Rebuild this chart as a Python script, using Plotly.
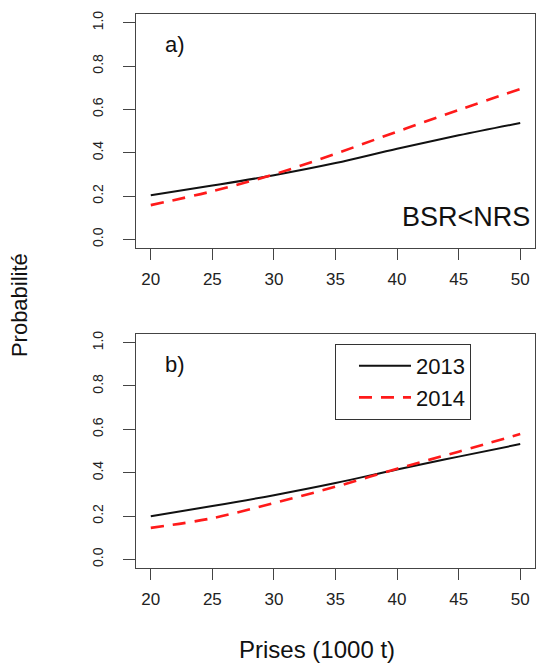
import plotly.graph_objects as go

# Data
prises = [20, 25, 30, 35, 40, 45, 50]
a_2013 = [0.203, 0.248, 0.296, 0.352, 0.418, 0.480, 0.537]
a_2014 = [0.158, 0.222, 0.300, 0.395, 0.497, 0.597, 0.694]
b_2013 = [0.199, 0.246, 0.296, 0.352, 0.415, 0.474, 0.532]
b_2014 = [0.145, 0.190, 0.260, 0.335, 0.418, 0.497, 0.578]
years = ["2013", "2014"]
x_ticks = [20, 25, 30, 35, 40, 45, 50]
y_ticks = [0.0, 0.2, 0.4, 0.6, 0.8, 1.0]

BLACK = "#111111"
RED = "#ff1a1a"
AXC = "#444444"
FONT = "Liberation Sans, Arial, sans-serif"
DASH = "13px,9px"

fig = go.Figure()
fig.add_trace(go.Scatter(x=prises, y=a_2013, mode="lines", name=years[0],
                         line=dict(color=BLACK, width=2, shape="spline"),
                         xaxis="x", yaxis="y", showlegend=False))
fig.add_trace(go.Scatter(x=prises, y=a_2014, mode="lines", name=years[1],
                         line=dict(color=RED, width=2.6, dash=DASH, shape="spline"),
                         xaxis="x", yaxis="y", showlegend=False))
fig.add_trace(go.Scatter(x=prises, y=b_2013, mode="lines", name=years[0],
                         line=dict(color=BLACK, width=2, shape="spline"),
                         xaxis="x2", yaxis="y2"))
fig.add_trace(go.Scatter(x=prises, y=b_2014, mode="lines", name=years[1],
                         line=dict(color=RED, width=2.6, dash=DASH, shape="spline"),
                         xaxis="x2", yaxis="y2"))

xax = dict(range=[18.8, 51.2], tickvals=x_ticks, ticks="outside", ticklen=11,
           tickcolor=AXC, tickwidth=1, showline=True, linecolor=AXC, linewidth=1,
           mirror=True, showgrid=False, zeroline=False, ticklabelstandoff=5,
           tickfont=dict(family=FONT, size=17, color="#222222"), domain=[0, 1])
yax = dict(range=[-0.04, 1.04], tickvals=y_ticks, tickformat=".1f", ticks="outside",
           ticklen=12, tickcolor=AXC, tickwidth=1, showline=True, linecolor=AXC,
           linewidth=1, mirror=True, showgrid=False, zeroline=False, tickangle=-90,
           ticklabelstandoff=14, tickfont=dict(family=FONT, size=14, color="#222222"))

fig.update_layout(
    width=536, height=666,
    margin=dict(l=136, r=1, t=14, b=98),
    paper_bgcolor="white", plot_bgcolor="white",
    xaxis=dict(xax, anchor="y"),
    yaxis=dict(yax, domain=[0.5776, 1.0], anchor="x"),
    xaxis2=dict(xax, anchor="y2"),
    yaxis2=dict(yax, domain=[0.0, 0.4224], anchor="x2"),
    showlegend=True,
    legend=dict(x=0.4987, y=0.4043, xanchor="left", yanchor="top",
                bordercolor="#333333", borderwidth=1, bgcolor="white",
                font=dict(family=FONT, size=22, color="#111111"),
                itemwidth=52, indentation=18, tracegroupgap=0),
    annotations=[
        dict(text="a)", x=22, y=0.9, xref="x", yref="y", showarrow=False,
             font=dict(family=FONT, size=22, color="#111111")),
        dict(text="b)", x=22, y=0.9, xref="x2", yref="y2", showarrow=False,
             font=dict(family=FONT, size=22, color="#111111")),
        dict(text="BSR&lt;NRS", x=50.96, y=0.105, xref="x", yref="y", xanchor="right",
             showarrow=False, font=dict(family=FONT, size=27, color="#111111")),
        dict(text="Probabilité", x=-0.293, y=0.4747, xref="paper", yref="paper",
             xanchor="center", yanchor="middle",
             textangle=-90, showarrow=False,
             font=dict(family=FONT, size=22, color="#111111")),
        dict(text="Prises (1000 t)", x=0.4536, y=-0.148, xref="paper", yref="paper",
             xanchor="center", yanchor="middle",
             showarrow=False, font=dict(family=FONT, size=24, color="#111111")),
    ],
)

fig.write_html(
    "out.html",
    config={"displayModeBar": False},
    post_script="document.body.style.margin='0';document.body.style.overflow='hidden';",
)
